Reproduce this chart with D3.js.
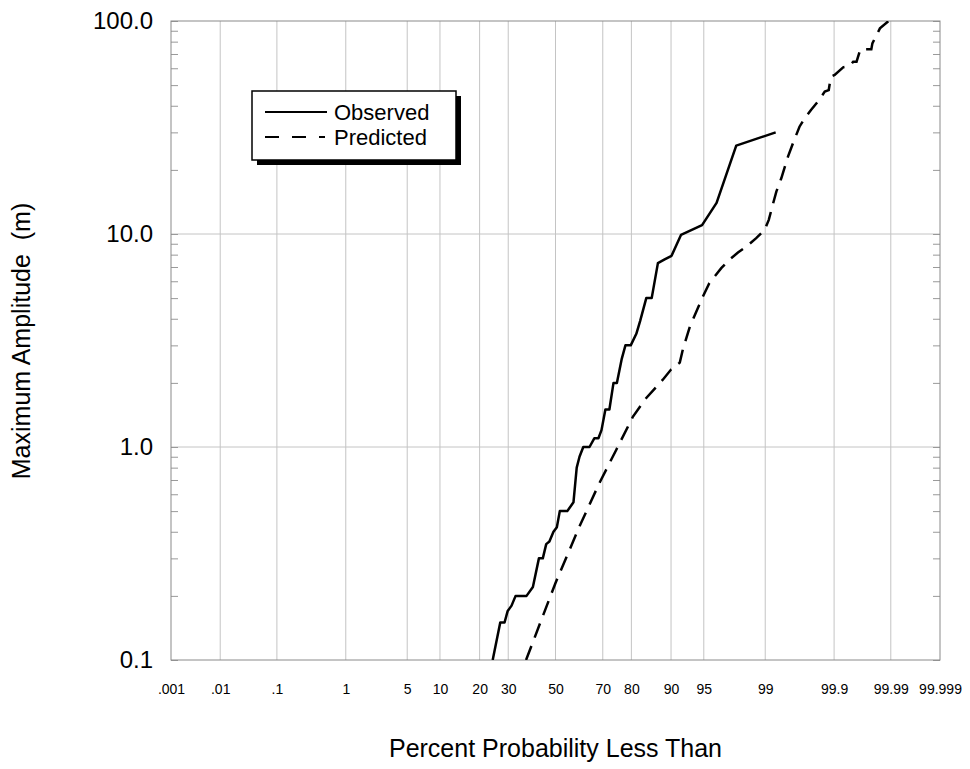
<!DOCTYPE html>
<html>
<head>
<meta charset="utf-8">
<script src="https://cdn.jsdelivr.net/npm/d3@7"></script>
<style>
    body { margin: 0; background: #fff; }
    svg { display: block; font-family: "Liberation Sans", Arial, Helvetica, sans-serif; }
</style>
</head>
<body>
<svg id="chart"></svg>
<script>
// probability axis ticks (percent less than)
const probTicks = [0.001, 0.01, 0.1, 1, 5, 10, 20, 30, 50, 70, 80, 90, 95, 99, 99.9, 99.99, 99.999];
const probLabels = [".001", ".01", ".1", "1", "5", "10", "20", "30", "50", "70", "80", "90", "95", "99", "99.9", "99.99", "99.999"];

// amplitude axis (log)
const ampTicks = [0.1, 1, 10, 100];
const ampLabels = ["0.1", "1.0", "10.0", "100.0"];

// observed curve
const observedPct = [24.3, 27.0, 28.6, 29.8, 31.3, 32.9, 37.4, 40.1, 42.7, 44.4, 45.9, 47.3, 49.1, 50.6, 51.9,
    55.2, 57.9, 59.3, 60.5, 62.1, 64.7, 66.7, 68.3, 69.5, 71.0, 72.5, 74.0, 75.2, 76.9, 78.1, 79.8, 81.5,
    82.6, 84.3, 85.7, 87.2, 88.7, 90.1, 91.8, 94.8, 96.3, 97.75, 99.27];
const observedAmp = [0.1, 0.15, 0.15, 0.17, 0.18, 0.2, 0.2, 0.22, 0.3, 0.3, 0.35, 0.36, 0.4, 0.42, 0.5,
    0.5, 0.55, 0.8, 0.9, 1.0, 1.0, 1.1, 1.1, 1.2, 1.5, 1.5, 2.0, 2.0, 2.6, 3.0, 3.0, 3.4,
    3.9, 5.0, 5.0, 7.3, 7.6, 7.9, 9.9, 11, 14, 26, 30];

// predicted curve
const predictedPct = [37.2, 50.0, 60.5, 68.7, 75.0, 80.5, 84.3, 88.3, 90.0, 91.6, 92.1, 93.2, 94.9, 95.6,
    96.7, 97.3, 97.85, 98.29, 98.70, 98.98, 99.10, 99.19, 99.285, 99.387, 99.504, 99.578, 99.66, 99.714,
    99.770, 99.819, 99.859, 99.878, 99.887, 99.902, 99.929, 99.945, 99.952, 99.958, 99.964, 99.977,
    99.978, 99.984, 99.989];
const predictedAmp = [0.1, 0.23, 0.424, 0.678, 0.971, 1.39, 1.70, 2.07, 2.31, 2.49, 2.86, 3.68, 5.09, 5.88,
    6.91, 7.56, 8.18, 8.73, 9.56, 10.45, 11.65, 13.45, 15.81, 18.27, 23.07, 26.67, 31.9, 34.9,
    38.2, 41.8, 46.6, 47.4, 54.7, 55.8, 60.6, 61.4, 64.4, 64.4, 73.6, 73.6,
    78.5, 92.3, 100];

// inverse normal cdf (Acklam), turns a probability into a z value
function probit(p) {
    const a = [-3.969683028665376e+01, 2.209460984245205e+02, -2.759285104469687e+02, 1.383577518672690e+02, -3.066479806614716e+01, 2.506628277459239e+00];
    const b = [-5.447609879822406e+01, 1.615858368580409e+02, -1.556989798598866e+02, 6.680131188771972e+01, -1.328068155288572e+01];
    const c = [-7.784894002430293e-03, -3.223964580411365e-01, -2.400758277161838e+00, -2.549732539343734e+00, 4.374664141464968e+00, 2.938163982698783e+00];
    const d = [7.784695709041462e-03, 3.224671290700398e-01, 2.445134137142996e+00, 3.754408661907416e+00];
    const plow = 0.02425;
    let q, r;
    if (p < plow) {
        q = Math.sqrt(-2 * Math.log(p));
        return (((((c[0]*q+c[1])*q+c[2])*q+c[3])*q+c[4])*q+c[5]) / ((((d[0]*q+d[1])*q+d[2])*q+d[3])*q+1);
    }
    if (p <= 1 - plow) {
        q = p - 0.5;
        r = q * q;
        return (((((a[0]*r+a[1])*r+a[2])*r+a[3])*r+a[4])*r+a[5])*q / (((((b[0]*r+b[1])*r+b[2])*r+b[3])*r+b[4])*r+1);
    }
    q = Math.sqrt(-2 * Math.log(1 - p));
    return -(((((c[0]*q+c[1])*q+c[2])*q+c[3])*q+c[4])*q+c[5]) / ((((d[0]*q+d[1])*q+d[2])*q+d[3])*q+1);
}

class ProbabilityPlot {

    margin = {top: 21, bottom: 109, left: 171, right: 30}

    constructor(svg, width=970, height=769) {
        this.svg = svg;
        this.width = width;
        this.height = height;
    }

    initialize() {
        this.svg = d3.select(this.svg)
            .attr('width', this.width)
            .attr('height', this.height);

        this.innerW = this.width - this.margin.left - this.margin.right;
        this.innerH = this.height - this.margin.top - this.margin.bottom;

        const zMin = probit(probTicks[0] / 100);
        const zMax = probit(probTicks[probTicks.length - 1] / 100);
        this.xScale = d3.scaleLinear().domain([zMin, zMax]).range([0, this.innerW]);
        this.yScale = d3.scaleLog().domain([0.1, 100]).range([this.innerH, 0]);

        this.container = this.svg.append('g')
            .attr('transform', `translate(${this.margin.left}, ${this.margin.top})`);

        this.svg.append('defs').append('clipPath').attr('id', 'plot-clip')
            .append('rect').attr('width', this.innerW).attr('height', this.innerH);
    }

    px(p) {
        return this.xScale(probit(p / 100));
    }

    draw() {
        const g = this.container;
        const x = this.xScale, y = this.yScale;

        // vertical grid
        g.append('g').selectAll('line')
            .data(probTicks.slice(1, -1))
            .join('line')
            .attr('x1', d => this.px(d)).attr('x2', d => this.px(d))
            .attr('y1', 0).attr('y2', this.innerH)
            .attr('stroke', '#c4c4c4').attr('stroke-width', 1);

        // horizontal grid
        g.append('g').selectAll('line')
            .data(ampTicks.slice(1, -1))
            .join('line')
            .attr('x1', 0).attr('x2', this.innerW)
            .attr('y1', d => y(d)).attr('y2', d => y(d))
            .attr('stroke', '#c4c4c4').attr('stroke-width', 1);

        // minor ticks inside left and right
        const minor = y.ticks();
        g.append('g')
            .call(d3.axisLeft(y).tickValues(minor).tickSize(-7).tickFormat(''))
            .call(a => a.select('.domain').remove())
            .selectAll('line').attr('stroke', '#999');
        g.append('g')
            .attr('transform', `translate(${this.innerW},0)`)
            .call(d3.axisRight(y).tickValues(minor).tickSize(-7).tickFormat(''))
            .call(a => a.select('.domain').remove())
            .selectAll('line').attr('stroke', '#999');

        // frame
        g.append('rect')
            .attr('width', this.innerW).attr('height', this.innerH)
            .attr('fill', 'none').attr('stroke', '#8a8a8a').attr('stroke-width', 1);

        // y labels
        g.append('g')
            .call(d3.axisLeft(y).tickValues(ampTicks).tickSize(0).tickPadding(18)
                .tickFormat((d, i) => ampLabels[i]))
            .call(a => a.select('.domain').remove())
            .selectAll('text')
            .attr('font-size', '24px').attr('fill', '#000')
            .style('font-family', '"Liberation Sans", Arial, sans-serif');

        // x labels
        g.append('g')
            .attr('transform', `translate(0,${this.innerH})`)
            .call(d3.axisBottom(x).tickValues(probTicks.map(p => probit(p / 100))).tickSize(0).tickPadding(24)
                .tickFormat((d, i) => probLabels[i]))
            .call(a => a.select('.domain').remove())
            .selectAll('text')
            .attr('font-size', '14px').attr('fill', '#000')
            .style('font-family', '"Liberation Sans", Arial, sans-serif');

        // curves
        const line = d3.line()
            .x(d => this.px(d[0]))
            .y(d => y(d[1]));

        const plot = g.append('g').attr('clip-path', 'url(#plot-clip)');

        plot.append('path')
            .datum(d3.zip(observedPct, observedAmp))
            .attr('d', line)
            .attr('fill', 'none').attr('stroke', '#000').attr('stroke-width', 2.5)
            .attr('stroke-linejoin', 'round');

        plot.append('path')
            .datum(d3.zip(predictedPct, predictedAmp))
            .attr('d', line)
            .attr('fill', 'none').attr('stroke', '#000').attr('stroke-width', 2.5)
            .attr('stroke-dasharray', '15,9');

        // axis titles
        this.svg.append('text')
            .attr('x', this.margin.left + x(0)).attr('y', 757)
            .attr('text-anchor', 'middle').attr('font-size', '25px')
            .text('Percent Probability Less Than');

        this.svg.append('text')
            .attr('transform', `translate(30, 341) rotate(-90)`)
            .attr('text-anchor', 'middle').attr('font-size', '25px')
            .style('white-space', 'pre')
            .text('Maximum Amplitude  (m)');

        this.drawLegend();
    }

    drawLegend() {
        const lg = this.svg.append('g').attr('transform', 'translate(252, 91)');
        const w = 204, h = 69;

        lg.append('rect').attr('x', 5).attr('y', 5).attr('width', w).attr('height', h).attr('fill', '#000');
        lg.append('rect').attr('width', w).attr('height', h)
            .attr('fill', '#fff').attr('stroke', '#000').attr('stroke-width', 1.5);

        const items = [
            {name: 'Observed', dash: null, len: 62, y: 21},
            {name: 'Predicted', dash: '14,13', len: 60, y: 46}
        ];
        items.forEach(it => {
            lg.append('line')
                .attr('x1', 13).attr('x2', 13 + it.len)
                .attr('y1', it.y).attr('y2', it.y)
                .attr('stroke', '#000').attr('stroke-width', 2)
                .attr('stroke-dasharray', it.dash);
            lg.append('text')
                .attr('x', 82).attr('y', it.y + 8)
                .attr('font-size', '22px')
                .text(it.name);
        });
    }
}

const chart = new ProbabilityPlot('#chart');
chart.initialize();
chart.draw();
</script>
</body>
</html>
